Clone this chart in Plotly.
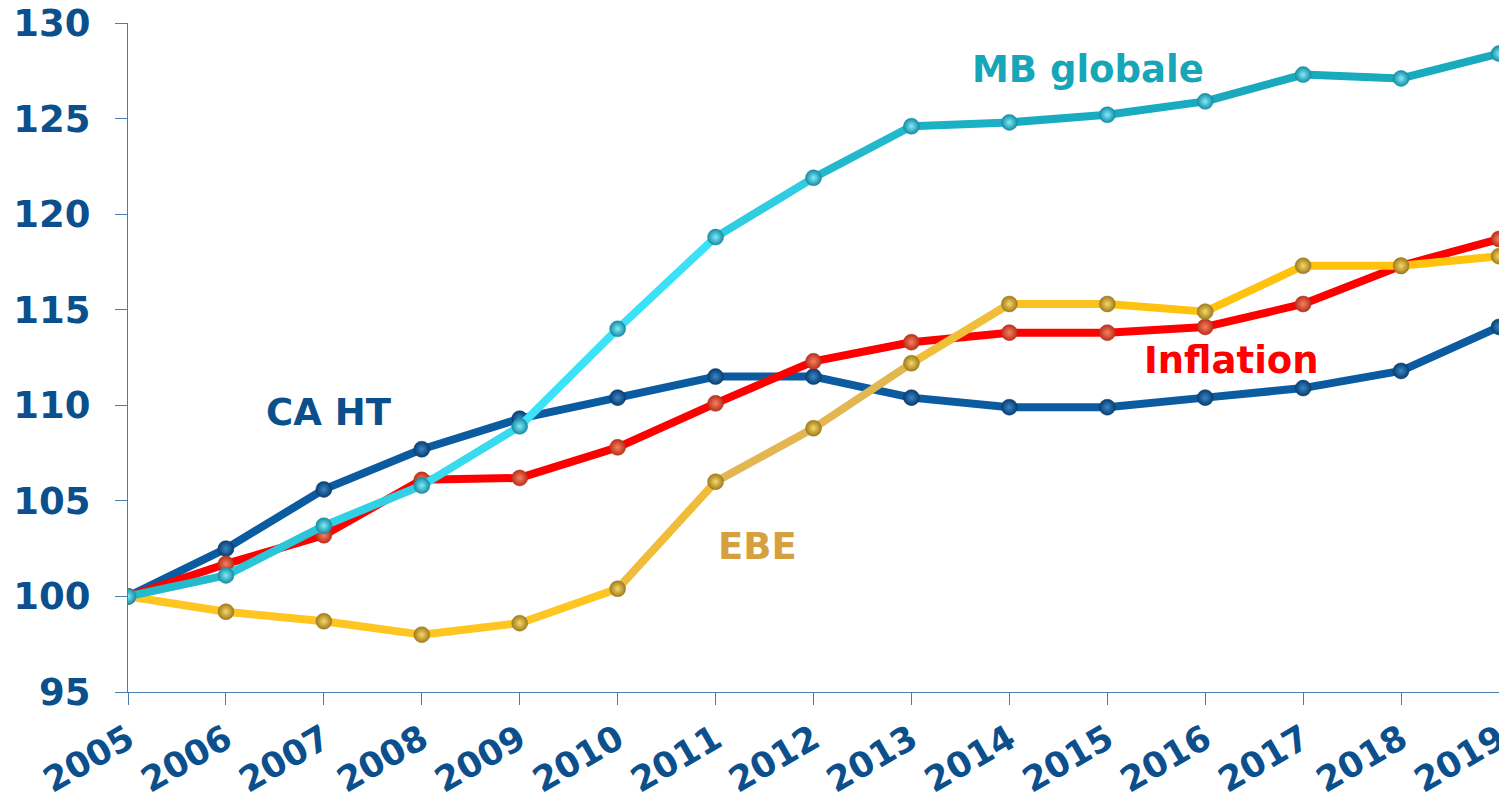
import plotly.graph_objects as go

# Données (indice base 100 en 2005)
annees = list(range(2005, 2020))
ca_ht = [100, 102.5, 105.6, 107.7, 109.3, 110.4, 111.5, 111.5, 110.4, 109.9, 109.9, 110.4, 110.9, 111.8, 114.1]
inflation = [100, 101.7, 103.2, 106.1, 106.2, 107.8, 110.1, 112.3, 113.3, 113.8, 113.8, 114.1, 115.3, 117.3, 118.7]
ebe = [100, 99.2, 98.7, 98.0, 98.6, 100.4, 106.0, 108.8, 112.2, 115.3, 115.3, 114.9, 117.3, 117.3, 117.8]
mb_globale = [100, 101.1, 103.7, 105.8, 108.9, 114.0, 118.8, 121.9, 124.6, 124.8, 125.2, 125.9, 127.3, 127.1, 128.4]

series_noms = ["CA HT", "Inflation", "EBE", "MB globale"]
series_vals = [ca_ht, inflation, ebe, mb_globale]

# Couleurs par segment (effet dégradé de l'original)
SEGMENTS = {
    "CA HT": ["#0A5BA0"] * 14,
    "Inflation": ["#FF0000"] * 14,
    "EBE": ["#FFC520", "#FFC520", "#FFC520", "#FFC520", "#FFC520", "#F0BC3A",
            "#E3B652", "#E2B650", "#F0BE38", "#FCC222", "#FFC20E", "#FFC20E",
            "#FFC20E", "#FFC20E"],
    "MB globale": ["#25B9CC", "#2CC4D8", "#32D0E4", "#38DAEE", "#3CE2F7", "#3BE1F6",
                   "#30CDE1", "#22B9CD", "#1BB0C4", "#19ACC0", "#19ABBF", "#19AABE",
                   "#19AABE", "#19AABE"],
}
# (bord, centre) des marqueurs « sphère »
MARQUEURS = {
    "CA HT": ("#083E70", "#3A86C8"),
    "Inflation": ("#B8301A", "#F88060"),
    "EBE": ("#A07C1C", "#F8D868"),
    "MB globale": ("#168CA4", "#80ECF8"),
}
TEXTE = {
    "CA HT": ("#0B4F8C", 2007.05, 109.6),
    "Inflation": ("#FF0000", 2016.27, 112.35),
    "EBE": ("#D4A040", 2011.43, 102.6),
    "MB globale": ("#17A5B8", 2014.8, 127.55),
}
BLEU = "#0B4F8C"
AXE = "#4A7DB0"

fig = go.Figure()
for nom, vals in zip(series_noms, series_vals):
    for i, couleur in enumerate(SEGMENTS[nom]):
        fig.add_trace(go.Scatter(
            x=annees[i:i + 2], y=vals[i:i + 2], mode="lines",
            line=dict(color=couleur, width=8), showlegend=False, hoverinfo="skip",
        ))
    bord, centre = MARQUEURS[nom]
    fig.add_trace(go.Scatter(
        x=annees, y=vals, mode="markers", name=nom, showlegend=False,
        marker=dict(size=16, color=bord, gradient=dict(type="radial", color=centre),
                    line=dict(width=0.5, color=bord)),
        hovertemplate="%{x} · %{y:.1f}<extra>" + nom + "</extra>",
    ))

for nom in series_noms:
    couleur, x, y = TEXTE[nom]
    fig.add_annotation(x=x, y=y, text=nom, showarrow=False,
                       font=dict(family="DejaVu Sans", size=37, color=couleur, weight="bold"))

# la page ajoute une marge de 8 px : figure réduite pour éviter tout débordement
fig.update_layout(
    width=1491, height=793,
    paper_bgcolor="white", plot_bgcolor="white",
    margin=dict(l=120, r=0, t=15, b=109),
    font=dict(family="DejaVu Sans", size=35, color=BLEU, weight="bold"),
)
fig.update_xaxes(
    range=[2005, 2019], tickvals=annees, ticktext=[str(a) for a in annees],
    tickangle=-30, ticks="outside", ticklen=12, tickcolor=AXE, tickwidth=1.3,
    showline=True, linecolor=AXE, linewidth=1.3, showgrid=False, zeroline=False,
    tickfont=dict(size=35, color=BLEU), ticklabelstandoff=0,
    automargin=False, ticklabeloverflow="allow",
)
fig.update_yaxes(
    range=[95, 130], tickvals=[95, 100, 105, 110, 115, 120, 125, 130],
    ticks="outside", ticklen=12, tickcolor=AXE, tickwidth=1.3,
    showline=True, linecolor=AXE, linewidth=1.3, showgrid=False, zeroline=False,
    tickfont=dict(size=37, color=BLEU), ticklabelstandoff=17,
    automargin=False, ticklabeloverflow="allow",
)

fig.write_html("out.html")
